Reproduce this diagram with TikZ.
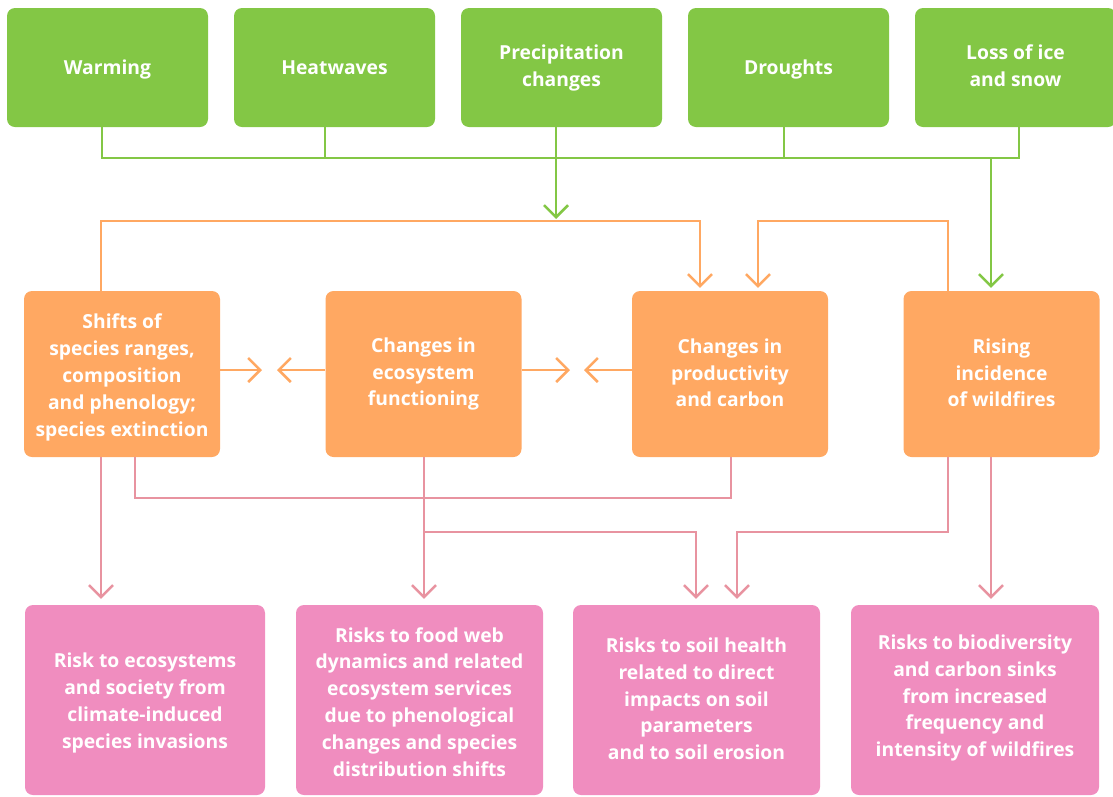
\documentclass[tikz,border=0pt]{standalone}
\usepackage{fontspec}
\setmainfont{Open Sans}
\usetikzlibrary{arrows.meta}
\definecolor{cgreen}{HTML}{83C745}
\definecolor{corange}{HTML}{FFA862}
\definecolor{cpink}{HTML}{F08DBF}
\definecolor{cpinkline}{HTML}{E893A0}
% box caption: lines centred as uniform line boxes, optionally lowered a little
\newcommand{\boxlines}[2][0pt]{%
  \raisebox{\dimexpr-6pt-#1\relax}[0pt][0pt]{\begin{tabular}{@{}c@{}}#2\end{tabular}}}
\tikzset{
  box/.style={rectangle, rounded corners=8pt, text=white,
    font=\fontsize{19.3}{26.8}\selectfont\bfseries, inner sep=0pt},
  gbox/.style={box, fill=cgreen, minimum width=201pt, minimum height=119pt},
  obox/.style={box, fill=corange, minimum width=196pt, minimum height=166pt},
  pbox/.style={box, fill=cpink, minimum height=190pt},
  link/.style={line width=2.5pt},
  gline/.style={link, draw=cgreen},
  oline/.style={link, draw=corange},
  pline/.style={link, draw=cpinkline},
  >={Straight Barb[length=12pt,width=24pt]}
}
\begin{document}
\begin{tikzpicture}[x=1pt,y=-1pt]
\useasboundingbox (0,0) rectangle (1113,796);

% drivers
\node[gbox] (warm) at (107.5,67.5) {\boxlines[1pt]{Warming}};
\node[gbox] (heat) at (334.5,67.5) {\boxlines[1pt]{Heatwaves}};
\node[gbox] (prec) at (561.5,67.5) {\boxlines[-1pt]{Precipitation\\changes}};
\node[gbox] (drou) at (788.5,67.5) {\boxlines[1pt]{Droughts}};
\node[gbox] (loss) at (1015.5,67.5) {\boxlines[-0.3pt]{Loss of ice\\and snow}};

% impacts
\node[obox] (shift) at (122,374) {\boxlines[2.4pt]{Shifts of\\species ranges,\\composition\\and phenology;\\species extinction}};
\node[obox] (eco) at (423.5,374) {\boxlines[-1pt]{Changes in\\ecosystem\\functioning}};
\node[obox] (prod) at (730,374) {\boxlines{Changes in\\productivity\\and carbon}};
\node[obox] (rise) at (1001.5,374) {\boxlines{Rising\\incidence\\of wildfires}};

% risks
\node[pbox, minimum width=240pt] (r1) at (145,700) {\boxlines[2pt]{Risk to ecosystems\\and society from\\climate-induced\\species invasions}};
\node[pbox, minimum width=247pt] (r2) at (419.5,700) {\boxlines[3pt]{Risks to food web\\dynamics and related\\ecosystem services\\due to phenological\\changes and species\\distribution shifts}};
\node[pbox, minimum width=247pt] (r3) at (696.5,700) {\boxlines{Risks to soil health\\related to direct\\impacts on soil\\parameters\\and to soil erosion}};
\node[pbox, minimum width=248pt] (r4) at (975,700) {\boxlines[-3pt]{Risks to biodiversity\\and carbon sinks\\from increased\\frequency and\\intensity of wildfires}};

% green collector
\draw[gline] (warm.south -| 102,0) |- (1019,158) -- (loss.south -| 1019,0);
\draw[gline] (heat.south -| 325,0) -- (325,158);
\draw[gline] (prec.south -| 556,0) -- (556,158);
\draw[gline] (drou.south -| 784,0) -- (784,158);
\coordinate (hub) at (556,219);
\draw[gline,->] (556,158) -- (hub);
\draw[gline,->] (991,158) -- ([yshift=3pt]rise.north -| 991,0);

% orange links into productivity
\draw[oline,->] (shift.north -| 101,0) |- (700,221) -- ([yshift=3pt]prod.north -| 700,0);
\draw[oline,->] (rise.north -| 948,0) |- (758,221) -- ([yshift=3pt]prod.north -| 758,0);

% mutual interactions
\draw[oline,->] (shift.east |- 0,370) -- (262,370);
\draw[oline,->] (eco.west |- 0,370) -- (277,370);
\draw[oline,->] (eco.east |- 0,370) -- (570,370);
\draw[oline,->] (prod.west |- 0,370) -- (584,370);

% pink links to risks
\draw[pline,->] (shift.south -| 101,0) -- ([yshift=6pt]r1.north -| 101,0);
\draw[pline] (shift.south -| 135,0) |- (731,498) -- (prod.south -| 731,0);
\draw[pline,->] (eco.south -| 424,0) -- ([yshift=6pt]r2.north -| 424,0);
\draw[pline,->] (424,532) -| ([yshift=6pt]r3.north -| 696,0);
\draw[pline,->] (rise.south -| 948,0) |- (737,532) -- ([yshift=6pt]r3.north -| 737,0);
\draw[pline,->] (rise.south -| 991,0) -- ([yshift=6pt]r4.north -| 991,0);
\end{tikzpicture}
\end{document}
